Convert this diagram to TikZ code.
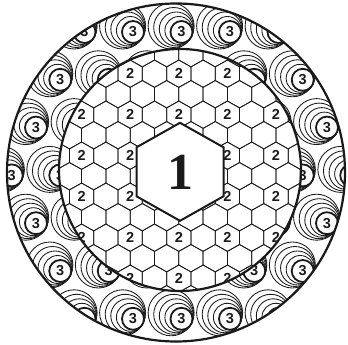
\documentclass[tikz,border=0pt]{standalone}
\usepackage{fontspec}
\setmainfont{Liberation Serif}
\newfontfamily\markfont{Liberation Sans}
\definecolor{cableink}{HTML}{1A1A1A}
\tikzset{
    ringline/.style={
        draw=cableink,
        line width=2.2pt
    },
    cellline/.style={
        draw=cableink,
        line width=0.75pt
    },
    rollline/.style={
        draw=cableink,
        fill=white,
        line width=0.85pt
    },
    rollcore/.style={
        draw=cableink,
        fill=white,
        line width=1.8pt
    },
    marklabel/.style={
        inner sep=0pt,
        text=cableink,
        font=\markfont\bfseries\fontsize{14.5}{14.5}\selectfont
    },
    corelabel/.style={
        inner sep=0pt,
        text=cableink,
        font=\bfseries\fontsize{52}{52}\selectfont
    }
}

\begin{document}
\begin{tikzpicture}[x=1pt,y=-1pt]
    \useasboundingbox (0,0) rectangle (348,345);

    % outer layer: rolled strands
    \begin{scope}
        \clip (176,172.5) circle[radius=169pt];
        \foreach \n in {0,...,6}{
            \pgfmathsetmacro\rowy{32+47.8*\n}
            \pgfmathsetmacro\rowx{133-24.25*mod(\n,2)}
            \foreach \m in {-3,...,5}{
                \pgfmathsetmacro\rollx{\rowx+48.5*\m}
                \pgfmathsetmacro\ro{veclen(\rollx-176,\rowy-172.5)}
                \pgfmathsetmacro\ri{veclen(\rollx-180,\rowy-170)}
                \pgfmathtruncatemacro\shown{and(\ri>85,\ro<190)}
                \pgfmathtruncatemacro\named{and(\ri>110,\ro<172)}
                \ifnum\shown=1
                \begin{scope}[shift={(\rollx,\rowy)}]
                    \foreach \d in {12,9,6,3}{
                        \pgfmathsetmacro\rr{11+\d}
                        \draw[rollline] (-0.866*\d,-0.5*\d) circle[radius=\rr pt];
                    }
                    \draw[rollcore] (0,0) circle[radius=11pt];
                    \ifnum\named=1
                        \node[marklabel] (roll-\n-\m) at (0,0) {3};
                    \fi
                \end{scope}
                \fi
            }
        }
    \end{scope}

    % inner layer: hexagonal cells
    \fill[white] (180,170) circle[radius=121pt];
    \begin{scope}
        \clip (180,170) circle[radius=121pt];
        \foreach \j in {-6,...,7}{
            \foreach \i in {-7,...,6}{
                \pgfmathsetmacro\cellx{178.8+24.3*\i+12.15*mod(abs(\j),2)}
                \pgfmathsetmacro\celly{155.7+20.5*\j}
                \draw[cellline,shift={(\cellx,\celly)}]
                    (0,-13.67) -- (12.15,-6.83) -- (12.15,6.83) -- (0,13.67)
                    -- (-12.15,6.83) -- (-12.15,-6.83) -- cycle;
                \pgfmathtruncatemacro\odd{mod(abs(\i),2)+mod(abs(\j),2)}
                \pgfmathtruncatemacro\hidden{and(abs(\cellx-180)<30,abs(\celly-172)<35)}
                \pgfmathtruncatemacro\outside{veclen(\cellx-180,\celly-170)>126}
                \pgfmathtruncatemacro\skip{\odd+\hidden+\outside}
                \ifnum\skip=0
                    \node[marklabel] (cell-\i-\j) at (\cellx,\celly) {2};
                \fi
            }
        }
    \end{scope}
    \draw[ringline] (180,170) circle[radius=121pt];
    \draw[ringline] (176,172.5) circle[radius=169pt];

    % core
    \draw[ringline,fill=white,line width=2pt]
        (180,122.8) -- (223.5,147.3) -- (223.5,196.3) -- (180,220.8)
        -- (136.5,196.3) -- (136.5,147.3) -- cycle;
    \node[corelabel] (core) at (180.5,172) {1};
\end{tikzpicture}
\end{document}
